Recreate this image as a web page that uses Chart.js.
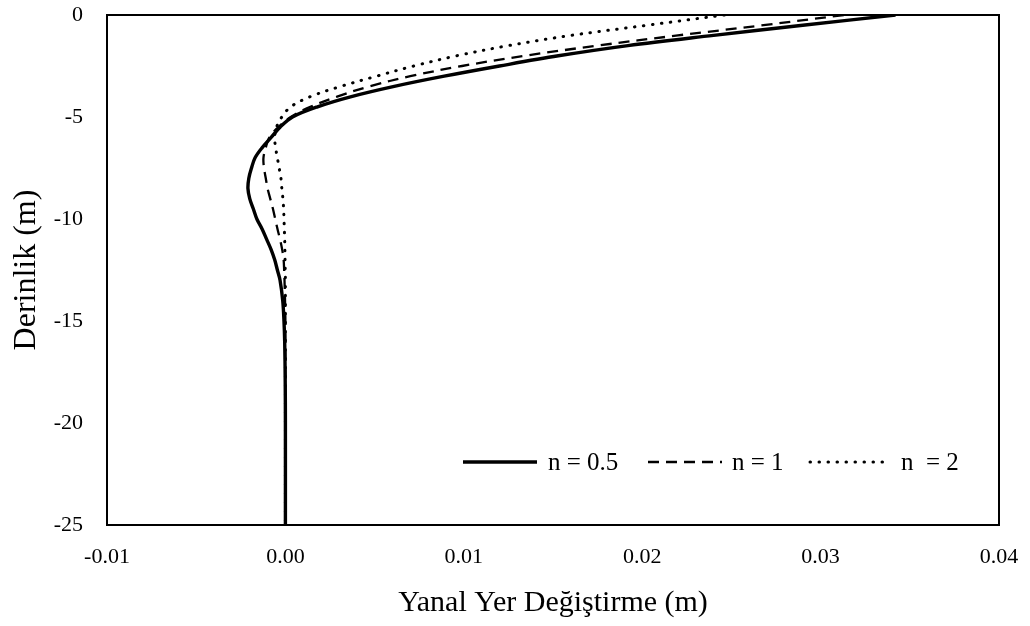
<!DOCTYPE html>
<html>
<head>
<meta charset="utf-8">
<script src="https://cdn.jsdelivr.net/npm/chart.js@4/dist/chart.umd.min.js"></script>
<style>
  html, body { margin: 0; padding: 0; background: #fff; }
  #wrap { width: 1030px; height: 626px; }
</style>
</head>
<body>
<div id="wrap"><canvas id="c" width="1030" height="626"></canvas></div>
<script>
// Depth (m)
const depths = [0, -0.5, -1, -1.5, -2, -2.5, -3, -3.5, -4, -4.5, -5, -5.5, -6, -6.5, -7, -7.5, -8, -8.5, -9, -9.5, -10, -10.5, -11, -11.5, -12, -12.5, -13, -14, -15, -16, -18, -20, -25];
// Lateral displacement (m) for each n
const dispN05 = [0.0342, 0.0290, 0.0240, 0.0192, 0.0153, 0.0120, 0.0089, 0.0061, 0.0037, 0.0018, 0.0004, -0.0003, -0.0008, -0.0013, -0.0017, -0.0019, -0.00205, -0.0021, -0.0020, -0.0018, -0.0016, -0.0013, -0.00105, -0.0008, -0.0006, -0.00045, -0.0003, -0.00015, -0.00008, -0.00004, -0.00001, 0, 0];
const dispN1 = [0.0313, 0.0268, 0.0220, 0.0175, 0.0134, 0.0099, 0.0070, 0.0047, 0.0029, 0.0014, 0.0003, -0.0004, -0.0009, -0.0011, -0.00123, -0.0012, -0.0011, -0.0010, -0.00085, -0.0007, -0.00057, -0.00044, -0.0003, -0.00018, -0.0001, -0.00007, -0.00005, -0.00002, 0, 0, 0, 0, 0];
const dispN2 = [0.0246, 0.0203, 0.0160, 0.0125, 0.0096, 0.0072, 0.0051, 0.0031, 0.0014, 0.0003, -0.0002, -0.0005, -0.0006, -0.00055, -0.00045, -0.00035, -0.00025, -0.0002, -0.00014, -0.0001, -0.00008, -0.00006, -0.00004, -0.00003, -0.00002, -0.00001, 0, 0, 0, 0, 0, 0, 0];
const seriesLabels = ['n = 0.5', 'n = 1', 'n  = 2'];
const xTicks = [-0.01, 0.00, 0.01, 0.02, 0.03, 0.04];
const yTicks = [-25, -20, -15, -10, -5, 0];
const xTitle = 'Yanal Yer Değiştirme (m)';
const yTitle = 'Derinlik (m)';

const FONT = '"Liberation Serif", "Times New Roman", serif';

function pts(vals) { return vals.map((v, i) => ({ x: v, y: depths[i] })); }

// legend layout (offsets from the plot's left edge)
const legendLineStart = [356, 541, 703];
const legendTextStart = [441, 625, 794];

const boxAndLegend = {
  id: 'boxAndLegend',
  afterDraw(chart) {
    const { ctx, chartArea: a } = chart;
    ctx.save();
    ctx.strokeStyle = '#000';
    ctx.lineWidth = 2;
    ctx.setLineDash([]);
    ctx.strokeRect(a.left, a.top, a.right - a.left, a.bottom - a.top);
    const y = a.bottom - 63;
    ctx.font = '25px ' + FONT;
    ctx.fillStyle = '#000';
    ctx.textBaseline = 'middle';
    ctx.textAlign = 'left';
    chart.data.datasets.forEach((ds, i) => {
      const x0 = a.left + legendLineStart[i];
      ctx.beginPath();
      ctx.lineWidth = ds.borderWidth;
      ctx.lineCap = ds.borderCapStyle || 'butt';
      ctx.setLineDash(ds.borderDash || []);
      ctx.strokeStyle = ds.borderColor;
      ctx.moveTo(x0, y);
      ctx.lineTo(x0 + 74, y);
      ctx.stroke();
      ctx.setLineDash([]);
      ctx.fillText(ds.label, a.left + legendTextStart[i], y + 1);
    });
    ctx.restore();
  }
};

new Chart(document.getElementById('c'), {
  type: 'scatter',
  data: {
    datasets: [
      { label: seriesLabels[0], data: pts(dispN05), showLine: true, borderColor: '#000', borderWidth: 3.4, pointRadius: 0, tension: 0.35, borderDash: [] },
      { label: seriesLabels[1], data: pts(dispN1), showLine: true, borderColor: '#000', borderWidth: 2.3, pointRadius: 0, tension: 0.35, borderDash: [11, 7] },
      { label: seriesLabels[2], data: pts(dispN2), showLine: true, borderColor: '#000', borderWidth: 3, pointRadius: 0, tension: 0.35, borderDash: [0.5, 8.5], borderCapStyle: 'round' }
    ]
  },
  options: {
    responsive: false,
    animation: false,
    layout: { padding: { top: 15, right: 31, left: 0, bottom: 0 } },
    plugins: { legend: { display: false }, tooltip: { enabled: false } },
    scales: {
      x: {
        type: 'linear',
        min: -0.01, max: 0.04,
        afterBuildTicks(s) { s.ticks = xTicks.map(v => ({ value: v })); },
        afterFit(s) { s.height = 101; s.paddingLeft = 0; s.paddingRight = 0; },
        grid: { display: false, drawTicks: false },
        border: { display: false },
        ticks: { color: '#000', font: { family: FONT, size: 22 }, padding: 19, maxRotation: 0, callback: v => v.toFixed(2) },
        title: { display: true, text: xTitle, color: '#000', font: { family: FONT, size: 30 }, padding: { top: 0, bottom: 5 } }
      },
      y: {
        type: 'linear',
        min: -25, max: 0,
        afterBuildTicks(s) { s.ticks = yTicks.map(v => ({ value: v })); },
        afterFit(s) { s.width = 107; s.paddingTop = 0; s.paddingBottom = 0; },
        grid: { display: false, drawTicks: false },
        border: { display: false },
        ticks: { color: '#000', font: { family: FONT, size: 22 }, padding: 24, callback: v => String(v) },
        title: { display: true, text: yTitle, color: '#000', font: { family: FONT, size: 32 }, padding: { top: 7, bottom: 0 } }
      }
    }
  },
  plugins: [boxAndLegend]
});
</script>
</body>
</html>
